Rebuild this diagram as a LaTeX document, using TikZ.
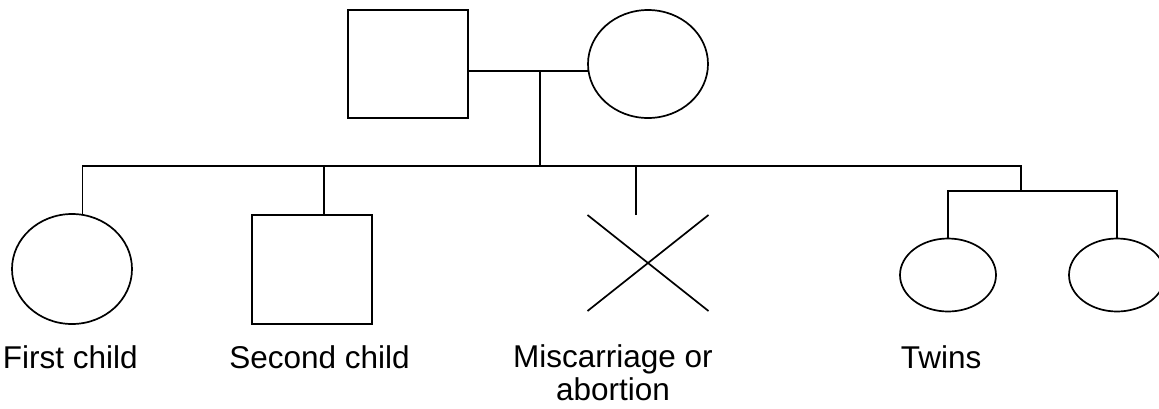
\documentclass[tikz,border=0pt]{standalone}
\usepackage{fontspec}
\setmainfont{Liberation Sans}
\usetikzlibrary{shapes}

\begin{document}
\begin{tikzpicture}[x=1pt,y=-1pt,line width=1.7pt,
  male/.style={draw,rectangle,inner sep=0,outer sep=0},
  female/.style={draw,ellipse,inner sep=0,outer sep=0},
  lost/.style={draw,cross out,inner sep=0,outer sep=0},
  caption/.style={inner sep=0,font=\fontsize{31.5}{33}\selectfont}]
\useasboundingbox (0,0) rectangle (1159,408);
\clip (0,0) rectangle (1159,408);
% parents
\node[male,minimum width=120pt,minimum height=108pt] (father) at (408,64) {};
\node[female,minimum width=120pt,minimum height=108pt] (mother) at (648,64) {};
\coordinate (m) at (540,71);
\coordinate (sib) at (540,166);
\draw (m -| father.east) -- (m -| mother.west);
\draw (m) -- (sib);
% children
\node[female,minimum width=120pt,minimum height=110pt] (child1) at (72,269) {};
\node[male,minimum width=120pt,minimum height=109pt] (child2) at (312,269.5) {};
\node[lost,minimum width=121pt,minimum height=96pt] (miscarriage) at (648,263) {};
\node[female,minimum width=96pt,minimum height=73pt] (twinA) at (948,275) {};
\node[female,minimum width=96pt,minimum height=73pt] (twinB) at (1117,275) {};
\coordinate (tw) at (1021,191);
\draw (child1.79) |- (sib) -| (tw);
\draw ([xshift=12pt]child2.north) -- ([xshift=12pt]child2.north |- sib);
\draw ([xshift=-12pt]miscarriage.north) -- ([xshift=-12pt]miscarriage.north |- sib);
\draw (twinA.north) |- (tw) -| (twinB.north);
% names
\node[caption,anchor=base west] (t1) at (2,368) {First child};
\node[caption,anchor=base west] (t2) at (228.5,368) {Second child};
\node[caption,anchor=base,align=center] (t3) at (613,400) {Miscarriage or\\abortion};
\node[caption,anchor=base west] (t4) at (900,368) {Twins};
\end{tikzpicture}
\end{document}
